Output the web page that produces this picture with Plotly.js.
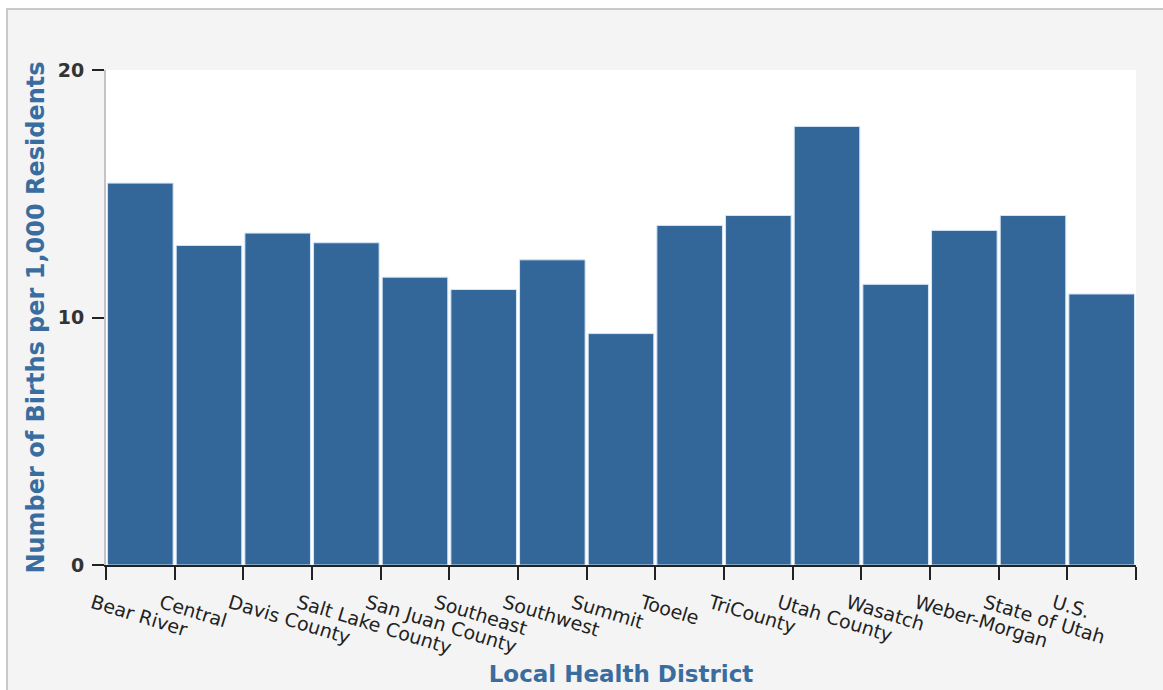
<!DOCTYPE html>
<html>
<head>
<meta charset="utf-8">
<script src="https://cdn.plot.ly/plotly-3.0.1.min.js"></script>
<style>
  html, body { margin: 0; padding: 0; background: #ffffff; overflow: hidden; width: 1163px; height: 690px; }
  #frame { position: absolute; left: 6px; top: 8px; width: 1200px; height: 760px; background: #f4f4f4; border: 2px solid #c9c9c9; box-sizing: border-box; }
  #chart { position: absolute; left: 0; top: 0; width: 1163px; height: 720px; }
</style>
</head>
<body>
<div id="frame"></div>
<div id="chart"></div>
<script>
// Data
var districts = ["Bear River", "Central", "Davis County", "Salt Lake County", "San Juan County",
                 "Southeast", "Southwest", "Summit", "Tooele", "TriCounty",
                 "Utah County", "Wasatch", "Weber-Morgan", "State of Utah", "U.S."];
var birthRates = [15.43, 12.91, 13.41, 13.02, 11.63,
                  11.13, 12.33, 9.35, 13.72, 14.12,
                  17.72, 11.34, 13.52, 14.12, 10.95];
var yTickValues = [0, 10, 20];
var yTickLabels = ["0", "10", "20"];

var trace = {
  type: "bar",
  x: districts,
  y: birthRates,
  marker: { color: "#336699", line: { color: "#d3e6f7", width: 1 } },
  hoverinfo: "x+y"
};

var layout = {
  width: 1163,
  height: 720,
  margin: { l: 106, r: 27, t: 70, b: 154.5, pad: 0 },
  paper_bgcolor: "rgba(0,0,0,0)",
  plot_bgcolor: "#ffffff",
  bargap: 0.045,
  showlegend: false,
  font: { family: "DejaVu Sans", color: "#222222" },
  xaxis: {
    type: "category",
    tickson: "boundaries",
    ticks: "outside",
    ticklen: 13,
    tickwidth: 2,
    tickcolor: "#222222",
    tickangle: 17,
    ticklabelshift: -48,
    ticklabelstandoff: 18,
    tickfont: { family: "DejaVu Sans", size: 19, color: "#222222" },
    showline: true,
    linecolor: "#222222",
    linewidth: 2,
    showgrid: false,
    zeroline: false,
    automargin: false,
    title: { text: "Local Health District", standoff: 9,
             font: { family: "DejaVu Sans", size: 23, color: "#3a6d9f", weight: "bold" } }
  },
  yaxis: {
    range: [0, 20],
    tickvals: yTickValues,
    ticktext: yTickLabels,
    ticks: "outside",
    ticklen: 12,
    tickwidth: 2,
    tickcolor: "#222222",
    ticklabelstandoff: 4,
    tickfont: { family: "DejaVu Sans", size: 19, color: "#333333", weight: "bold" },
    showline: true,
    linecolor: "#c4c4c4",
    linewidth: 2,
    showgrid: false,
    zeroline: false,
    automargin: false,
    title: { text: "Number of Births per 1,000 Residents", standoff: 6,
             font: { family: "DejaVu Sans", size: 24, color: "#3a6d9f", weight: "bold" } }
  }
};

Plotly.newPlot("chart", [trace], layout, { displayModeBar: false });
</script>
</body>
</html>
